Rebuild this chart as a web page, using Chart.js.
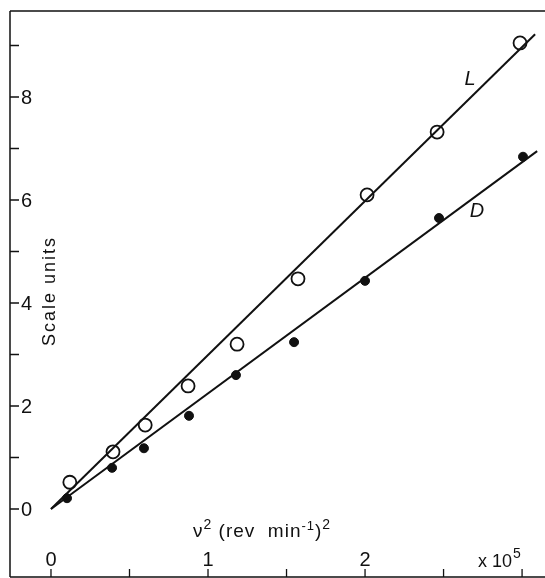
<!DOCTYPE html>
<html><head><meta charset="utf-8">
<script src="https://cdn.jsdelivr.net/npm/chart.js@4"></script>
<style>html,body{margin:0;padding:0;background:#fff}</style>
</head><body>
<canvas id="c" width="545" height="578"></canvas>
<script>
// Data
const lX = [0.12, 0.395, 0.60, 0.873, 1.185, 1.573, 2.013, 2.459, 2.987];
const lY = [0.52, 1.11, 1.63, 2.39, 3.20, 4.47, 6.10, 7.32, 9.05];
const dX = [0.102, 0.389, 0.592, 0.879, 1.178, 1.548, 2.0, 2.471, 3.006];
const dY = [0.21, 0.80, 1.18, 1.81, 2.60, 3.24, 4.43, 5.65, 6.84];
const lFitX = [0, 3.083];
const lFitY = [0, 9.22];
const dFitX = [0, 3.096];
const dFitY = [0, 6.95];
const xMajorTicks = [0, 1, 2, 3];
const xTickLabels = ['0', '1', '2', 'x 10'];
const xMinorTicks = [0.5, 1.5, 2.5];
const yMajorTicks = [0, 2, 4, 6, 8];
const yTickLabels = ['0', '2', '4', '6', '8'];
const yMinorTicks = [1, 3, 5, 7, 9];

const pts = (xs, ys) => xs.map((x, i) => ({x, y: ys[i]}));
const FONT = '"Liberation Sans", Arial, sans-serif';

const axesPlugin = {
  id: 'axesPlugin',
  afterDraw(chart) {
    const ctx = chart.ctx, xs = chart.scales.x, ys = chart.scales.y;
    const a = chart.chartArea;
    ctx.save();
    ctx.strokeStyle = '#111';
    ctx.fillStyle = '#111';
    ctx.lineWidth = 1.5;
    ctx.beginPath();
    ctx.moveTo(a.left, a.top); ctx.lineTo(a.right, a.top);
    ctx.moveTo(a.left, a.top); ctx.lineTo(a.left, a.bottom);
    ctx.moveTo(a.left, a.bottom); ctx.lineTo(a.right, a.bottom);
    ctx.stroke();
    ctx.lineWidth = 1.3;
    ctx.beginPath();
    [...xMajorTicks, ...xMinorTicks].forEach(v => {
      const px = xs.getPixelForValue(v);
      ctx.moveTo(px, a.bottom); ctx.lineTo(px, a.bottom - 8);
    });
    [...yMajorTicks, ...yMinorTicks].forEach(v => {
      const py = ys.getPixelForValue(v);
      ctx.moveTo(a.left, py); ctx.lineTo(a.left + 9, py);
    });
    ctx.stroke();
    // y tick labels
    ctx.font = '20px ' + FONT;
    ctx.textBaseline = 'middle';
    ctx.textAlign = 'left';
    yMajorTicks.forEach((v, i) => {
      ctx.fillText(yTickLabels[i], a.left + 11, ys.getPixelForValue(v) + 1);
    });
    // x tick labels
    xMajorTicks.forEach((v, i) => {
      const px = xs.getPixelForValue(v);
      if (i === xMajorTicks.length - 1) {
        ctx.textAlign = 'right';
        ctx.font = '18px ' + FONT;
        ctx.fillText(xTickLabels[i], px - 10, 562);
        ctx.textAlign = 'left';
        ctx.font = '14px ' + FONT;
        ctx.fillText('5', px - 9, 554);
      } else {
        ctx.textAlign = 'center';
        ctx.font = '20px ' + FONT;
        ctx.fillText(xTickLabels[i], px, 560);
      }
    });
    // x axis title
    ctx.textAlign = 'left';
    ctx.textBaseline = 'alphabetic';
    ctx.letterSpacing = '1px';
    let x = 193;
    const base = 537;
    const seg = (t, size, dy) => {
      ctx.font = size + 'px ' + FONT;
      ctx.fillText(t, x, base + dy);
      x += ctx.measureText(t).width;
    };
    seg('\u03bd', 19, 0);
    seg('2', 14, -8);
    seg(' (rev  min', 19, 0);
    seg('-1', 13, -7);
    seg(')', 19, 0);
    seg('2', 14, -8);
    ctx.letterSpacing = '0px';
    // y axis title
    ctx.save();
    ctx.translate(50, 291);
    ctx.rotate(-Math.PI / 2);
    ctx.font = '18px ' + FONT;
    ctx.letterSpacing = '2px';
    ctx.textAlign = 'center';
    ctx.textBaseline = 'middle';
    ctx.fillText('Scale units', 0, 0);
    ctx.restore();
    // line labels
    ctx.font = 'italic 20px ' + FONT;
    ctx.textAlign = 'center';
    ctx.textBaseline = 'middle';
    ctx.fillText('L', 470, 79);
    ctx.fillText('D', 477, 211);
    ctx.restore();
  }
};

new Chart(document.getElementById('c'), {
  type: 'scatter',
  data: {
    datasets: [
      {label: 'L fit', type: 'line', data: pts(lFitX, lFitY), borderColor: '#111', borderWidth: 2, pointRadius: 0, fill: false},
      {label: 'D fit', type: 'line', data: pts(dFitX, dFitY), borderColor: '#111', borderWidth: 2, pointRadius: 0, fill: false},
      {label: 'L', data: pts(lX, lY), pointRadius: 6.5, pointBackgroundColor: '#fff', pointBorderColor: '#111', pointBorderWidth: 1.8},
      {label: 'D', data: pts(dX, dY), pointRadius: 4.5, pointBackgroundColor: '#111', pointBorderColor: '#111', pointBorderWidth: 1}
    ]
  },
  options: {
    responsive: false,
    animation: false,
    layout: {autoPadding: false, padding: {left: 10, top: 11, right: 0, bottom: 1}},
    plugins: {legend: {display: false}, tooltip: {enabled: false}},
    scales: {
      x: {type: 'linear', display: false, min: -0.261, max: 3.146},
      y: {type: 'linear', display: false, min: -1.32, max: 9.67}
    }
  },
  plugins: [axesPlugin]
});
</script>
</body></html>
